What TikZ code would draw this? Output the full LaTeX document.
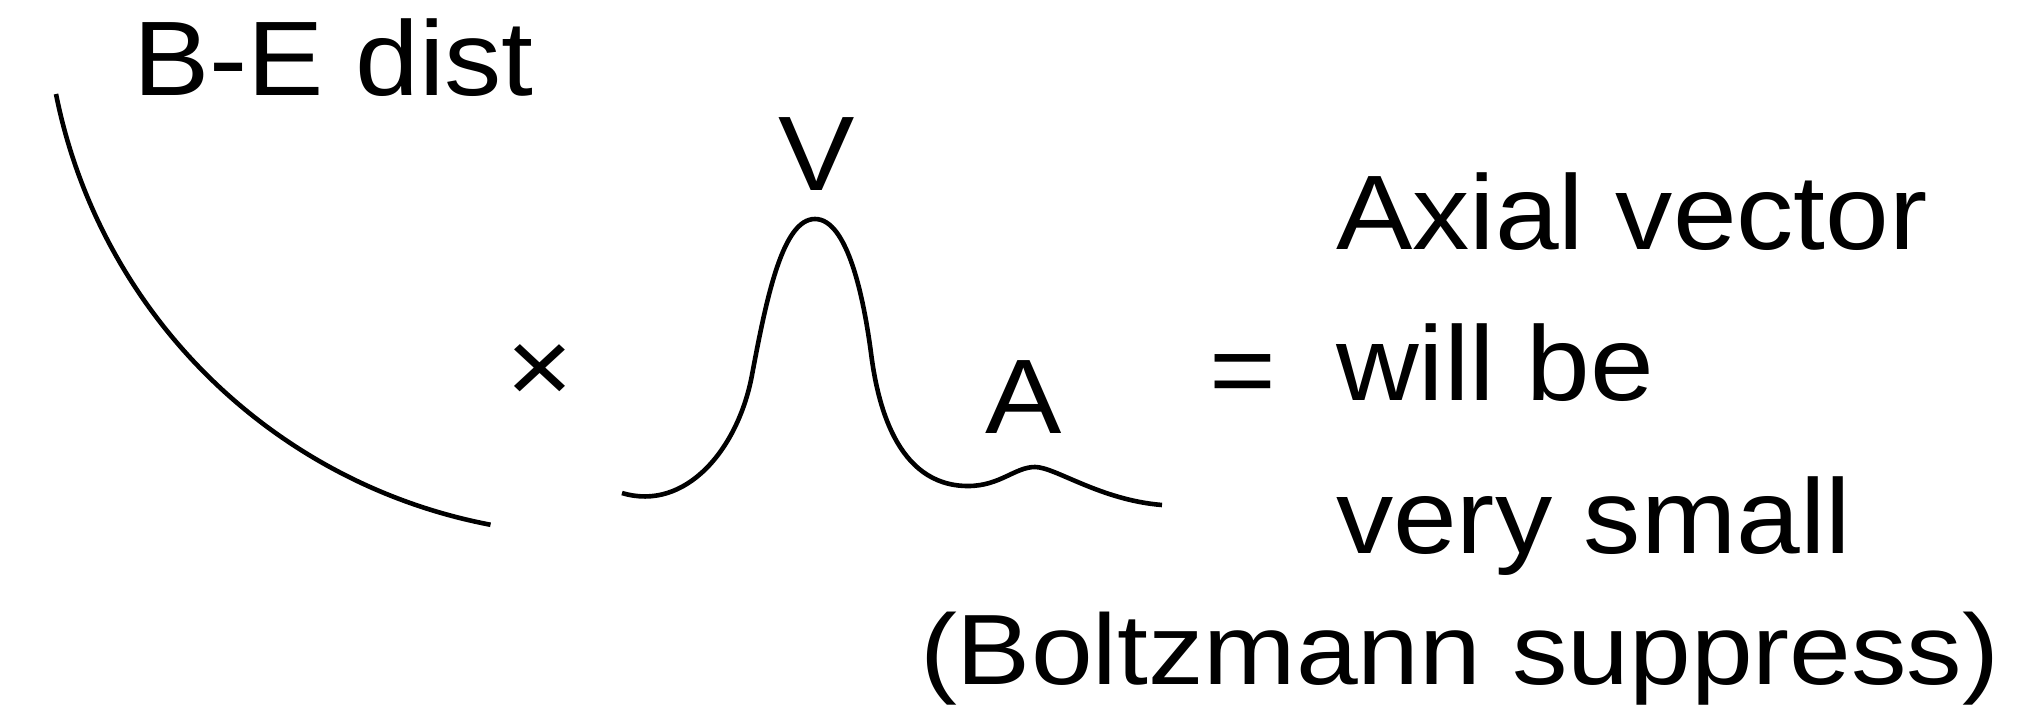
\documentclass[tikz,border=0pt]{standalone}
\usepackage{fontspec}
\setmainfont{Liberation Sans}
\newfontfamily\labfont[FakeStretch=1.08]{Liberation Sans}
\newfontfamily\boltzfont[FakeStretch=1.11]{Liberation Sans}
\begin{document}
\begin{tikzpicture}[x=1pt,y=1pt,
  lbl/.style={inner sep=0pt,outer sep=0pt,anchor=base west,font=\labfont\fontsize{106}{127}\selectfont},
  curve/.style={line width=4.6pt,black}]
\useasboundingbox (0,0) rectangle (2018,-707);
% labels
\node[lbl] (be) at (133,-95) {B-E dist};
\node[lbl] (v) at (778,-190) {V};
\node[lbl] (a) at (985,-433) {A};
\node[lbl] (ax) at (1336,-249) {Axial vector};
\node[lbl] (wb) at (1336,-400) {will be};
\node[lbl] (vs) at (1336,-553) {very small};
\node[lbl,font=\boltzfont\fontsize{100}{120}\selectfont] (bz) at (920,-684) {(Boltzmann suppress)};
\node[lbl,anchor=center] (times) at (540,-374) {×};
\node[lbl,anchor=center] (eq) at (1243,-381) {=};
% Bose-Einstein arc
\draw[curve] (56,-94) arc[start angle=191.3, end angle=259.2, radius=547.8];
% spectral function
\draw[curve] (622,-493)
  .. controls (685,-512) and (738,-450) .. (752,-375)
  .. controls (767,-295) and (783,-219) .. (815,-219)
  .. controls (848,-219) and (864,-300) .. (871,-353)
  .. controls (877,-400) and (895,-486) .. (968,-486)
  .. controls (1000,-486) and (1015,-467) .. (1035,-467)
  .. controls (1055,-467) and (1100,-500) .. (1162,-505);
\end{tikzpicture}
\end{document}
